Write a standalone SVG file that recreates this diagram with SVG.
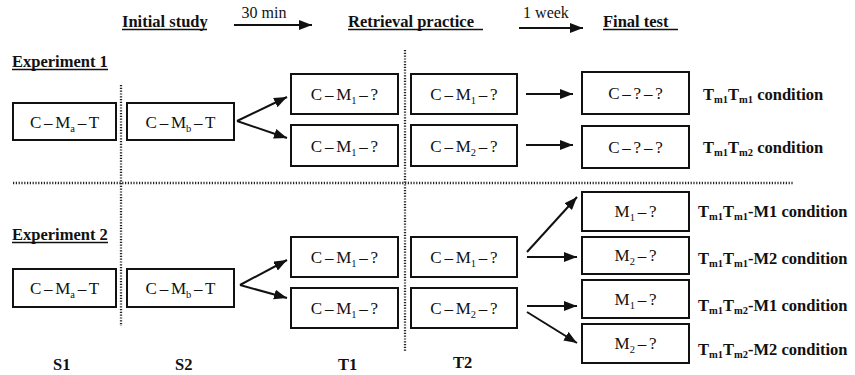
<svg xmlns="http://www.w3.org/2000/svg" width="855" height="375" viewBox="0 0 855 375" font-family="Liberation Serif, DejaVu Serif, serif">
<style>
.box{fill:#fff;stroke:#111;stroke-width:2}
.bt{font-family:'Liberation Serif','DejaVu Serif',serif;font-size:17px;word-spacing:-1.5px;fill:#111;text-anchor:middle}
.tm{font-family:'Liberation Serif','DejaVu Serif',serif;font-size:16px;fill:#111;text-anchor:middle}
.lb{font-family:'Liberation Serif','DejaVu Serif',serif;font-size:16.5px;font-weight:bold;fill:#111}
.sub{font-size:10.5px}
.ln{stroke:#111;stroke-width:2;fill:none}
.ul{stroke:#111;stroke-width:1.4}
.dot{stroke:#222;stroke-width:2.3;stroke-dasharray:1.2 1.6;fill:none}
</style>
<defs>
<marker id="ah" markerUnits="userSpaceOnUse" markerWidth="14" markerHeight="12" refX="13" refY="5" orient="auto">
<path d="M0,0 L13,5 L0,10 Z" fill="#111"/>
</marker>
</defs>

<g id="headers">
<text class="lb" x="122" y="27">Initial study</text>
<line class="ul" x1="122" y1="29.5" x2="207" y2="29.5"/>
<text class="tm" x="264" y="18">30 min</text>
<text class="lb" x="348" y="27">Retrieval practice</text>
<line class="ul" x1="348" y1="29.5" x2="483" y2="29.5"/>
<text class="tm" x="546" y="18">1 week</text>
<text class="lb" x="603" y="27">Final test</text>
<line class="ul" x1="603" y1="29.5" x2="678" y2="29.5"/>
<text class="lb" x="12" y="67">Experiment 1</text>
<line class="ul" x1="12" y1="69.5" x2="108" y2="69.5"/>
<text class="lb" x="12" y="240">Experiment 2</text>
<line class="ul" x1="12" y1="242.5" x2="108" y2="242.5"/>
<text class="lb" x="53" y="370">S1</text>
<text class="lb" x="175" y="370">S2</text>
<text class="lb" x="338" y="370">T1</text>
<text class="lb" x="453" y="368">T2</text>
</g>

<g id="dividers">
<line class="dot" x1="121" y1="85" x2="121" y2="326"/>
<line class="dot" x1="405" y1="50" x2="405" y2="352"/>
<line class="dot" x1="13" y1="183" x2="793" y2="183"/>
</g>

<g id="e1-s1"><rect class="box" x="13" y="103" width="103" height="37"/><text class="bt" x="64.5" y="127.5">C – M<tspan class="sub" dy="4">a</tspan><tspan dy="-4"> – T</tspan></text></g>
<g id="e1-s2"><rect class="box" x="127" y="103" width="107" height="37"/><text class="bt" x="180.5" y="127.5">C – M<tspan class="sub" dy="4">b</tspan><tspan dy="-4"> – T</tspan></text></g>
<g id="e1-t1a"><rect class="box" x="291" y="74" width="107" height="40"/><text class="bt" x="344.5" y="100">C – M<tspan class="sub" dy="4">1</tspan><tspan dy="-4"> – ?</tspan></text></g>
<g id="e1-t1b"><rect class="box" x="291" y="125" width="107" height="41"/><text class="bt" x="344.5" y="151.5">C – M<tspan class="sub" dy="4">1</tspan><tspan dy="-4"> – ?</tspan></text></g>
<g id="e1-t2a"><rect class="box" x="411" y="74" width="106" height="40"/><text class="bt" x="464" y="100">C – M<tspan class="sub" dy="4">1</tspan><tspan dy="-4"> – ?</tspan></text></g>
<g id="e1-t2b"><rect class="box" x="411" y="125" width="106" height="41"/><text class="bt" x="464" y="151.5">C – M<tspan class="sub" dy="4">2</tspan><tspan dy="-4"> – ?</tspan></text></g>
<g id="e1-fa"><rect class="box" x="582" y="72" width="107" height="42"/><text class="bt" x="635.5" y="99">C – ? – ?</text></g>
<g id="e1-fb"><rect class="box" x="582" y="126" width="107" height="42"/><text class="bt" x="635.5" y="153">C – ? – ?</text></g>
<g id="e1-la"><text class="lb" x="703" y="100">T<tspan class="sub" dy="2.5">m1</tspan><tspan dy="-2.5">T</tspan><tspan class="sub" dy="2.5">m1</tspan><tspan dy="-2.5"> condition</tspan></text></g>
<g id="e1-lb"><text class="lb" x="703" y="153">T<tspan class="sub" dy="2.5">m1</tspan><tspan dy="-2.5">T</tspan><tspan class="sub" dy="2.5">m2</tspan><tspan dy="-2.5"> condition</tspan></text></g>

<g id="e2-s1"><rect class="box" x="13" y="269" width="103" height="38"/><text class="bt" x="64.5" y="294">C – M<tspan class="sub" dy="4">a</tspan><tspan dy="-4"> – T</tspan></text></g>
<g id="e2-s2"><rect class="box" x="127" y="269" width="107" height="38"/><text class="bt" x="180.5" y="294">C – M<tspan class="sub" dy="4">b</tspan><tspan dy="-4"> – T</tspan></text></g>
<g id="e2-t1a"><rect class="box" x="291" y="237" width="107" height="40"/><text class="bt" x="344.5" y="263">C – M<tspan class="sub" dy="4">1</tspan><tspan dy="-4"> – ?</tspan></text></g>
<g id="e2-t1b"><rect class="box" x="291" y="288" width="107" height="40"/><text class="bt" x="344.5" y="314">C – M<tspan class="sub" dy="4">1</tspan><tspan dy="-4"> – ?</tspan></text></g>
<g id="e2-t2a"><rect class="box" x="411" y="237" width="106" height="40"/><text class="bt" x="464" y="263">C – M<tspan class="sub" dy="4">1</tspan><tspan dy="-4"> – ?</tspan></text></g>
<g id="e2-t2b"><rect class="box" x="411" y="288" width="106" height="40"/><text class="bt" x="464" y="314">C – M<tspan class="sub" dy="4">2</tspan><tspan dy="-4"> – ?</tspan></text></g>
<g id="e2-f1"><rect class="box" x="582" y="192" width="107" height="39"/><text class="bt" x="635.5" y="217">M<tspan class="sub" dy="4">1</tspan><tspan dy="-4"> – ?</tspan></text></g>
<g id="e2-f2"><rect class="box" x="582" y="237" width="107" height="37"/><text class="bt" x="635.5" y="261">M<tspan class="sub" dy="4">2</tspan><tspan dy="-4"> – ?</tspan></text></g>
<g id="e2-f3"><rect class="box" x="582" y="280" width="107" height="38"/><text class="bt" x="635.5" y="305">M<tspan class="sub" dy="4">1</tspan><tspan dy="-4"> – ?</tspan></text></g>
<g id="e2-f4"><rect class="box" x="582" y="324" width="107" height="39"/><text class="bt" x="635.5" y="349">M<tspan class="sub" dy="4">2</tspan><tspan dy="-4"> – ?</tspan></text></g>
<g id="e2-l1"><text class="lb" x="698" y="217">T<tspan class="sub" dy="2.5">m1</tspan><tspan dy="-2.5">T</tspan><tspan class="sub" dy="2.5">m1</tspan><tspan dy="-2.5">-M1 condition</tspan></text></g>
<g id="e2-l2"><text class="lb" x="698" y="264">T<tspan class="sub" dy="2.5">m1</tspan><tspan dy="-2.5">T</tspan><tspan class="sub" dy="2.5">m1</tspan><tspan dy="-2.5">-M2 condition</tspan></text></g>
<g id="e2-l3"><text class="lb" x="698" y="311">T<tspan class="sub" dy="2.5">m1</tspan><tspan dy="-2.5">T</tspan><tspan class="sub" dy="2.5">m2</tspan><tspan dy="-2.5">-M1 condition</tspan></text></g>
<g id="e2-l4"><text class="lb" x="698" y="355">T<tspan class="sub" dy="2.5">m1</tspan><tspan dy="-2.5">T</tspan><tspan class="sub" dy="2.5">m2</tspan><tspan dy="-2.5">-M2 condition</tspan></text></g>

<g id="connectors">
<line class="ln" x1="234" y1="25" x2="312" y2="25" marker-end="url(#ah)"/>
<line class="ln" x1="519" y1="28" x2="583" y2="28" marker-end="url(#ah)"/>
<line class="ln" x1="237" y1="121" x2="287" y2="97" marker-end="url(#ah)"/>
<line class="ln" x1="237" y1="121" x2="287" y2="138" marker-end="url(#ah)"/>
<line class="ln" x1="526" y1="94" x2="573" y2="94" marker-end="url(#ah)"/>
<line class="ln" x1="526" y1="145" x2="573" y2="145" marker-end="url(#ah)"/>
<line class="ln" x1="240" y1="285" x2="287" y2="260" marker-end="url(#ah)"/>
<line class="ln" x1="240" y1="285" x2="287" y2="298" marker-end="url(#ah)"/>
<line class="ln" x1="527" y1="252" x2="577" y2="197" marker-end="url(#ah)"/>
<line class="ln" x1="527" y1="257" x2="577" y2="257" marker-end="url(#ah)"/>
<line class="ln" x1="527" y1="306" x2="577" y2="306" marker-end="url(#ah)"/>
<line class="ln" x1="527" y1="312" x2="577" y2="343" marker-end="url(#ah)"/>
</g>
</svg>
